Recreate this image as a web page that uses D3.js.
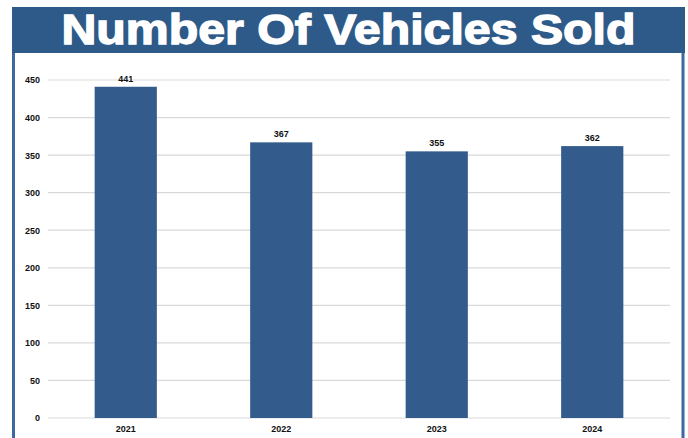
<!DOCTYPE html>
<html>
<head>
<meta charset="utf-8">
<script src="https://cdn.jsdelivr.net/npm/d3@7"></script>
<style>
  body { margin: 0; background: #fff; }
  text { font-family: "Liberation Sans", Arial, sans-serif; }
</style>
</head>
<body>
<div id="chart-div"></div>
<script>
// chart data
var years = ["2021", "2022", "2023", "2024"];
var sold = [441, 367, 355, 362];
var yTicks = [0, 50, 100, 150, 200, 250, 300, 350, 400, 450];
var title = "Number Of Vehicles Sold";

var width = 688
var height = 438
var margin = {top: 80, right: 18, bottom: 20, left: 48};

var svg = d3.select('#chart-div')
            .append('svg')
            .attr("width", width)
            .attr("height", height);

// frame + header band
svg.append("rect")
    .attr("x", 13.5).attr("y", 40)
    .attr("width", 669.5).attr("height", 420)
    .attr("fill", "#fff")
    .attr("stroke", "#3d69a0")
    .attr("stroke-width", 3);

svg.append("rect")
    .attr("x", 12).attr("y", 7)
    .attr("width", 673).attr("height", 46)
    .attr("fill", "#2d5a88");

svg.append("text")
    .attr("x", 348.5)
    .attr("y", 44)
    .attr("text-anchor", "middle")
    .attr("fill", "#fff")
    .attr("stroke", "#fff")
    .attr("stroke-width", 1.4)
    .attr("textLength", 574)
    .attr("lengthAdjust", "spacingAndGlyphs")
    .style("font-size", "43px")
    .style("font-weight", "bold")
    .text(title);

var x = d3.scaleBand()
    .domain(years)
    .range([margin.left, 670])
    .padding(0);

var y = d3.scaleLinear()
    .domain([0, 450])
    .range([418, margin.top]);

// gridlines
svg.append("g")
    .selectAll("line")
    .data(yTicks)
    .enter().append("line")
    .attr("x1", margin.left)
    .attr("x2", 670)
    .attr("y1", function(d) { return y(d); })
    .attr("y2", function(d) { return y(d); })
    .attr("stroke", "#d9d9d9")
    .attr("stroke-width", 1.2);

// y axis labels
var yAxis = d3.axisLeft(y).tickValues(yTicks).tickSize(0).tickPadding(0);
var yg = svg.append("g")
    .attr("transform", "translate(40,0)")
    .call(yAxis);
yg.select(".domain").remove();
yg.selectAll("text")
    .style("font-size", "9px")
    .style("font-weight", "bold")
    .attr("fill", "#111");

// x axis labels
var xAxis = d3.axisBottom(x).tickSize(0).tickPadding(0);
var xg = svg.append("g")
    .attr("transform", "translate(0,426)")
    .call(xAxis);
xg.select(".domain").remove();
xg.selectAll("text")
    .style("font-size", "9px")
    .style("font-weight", "bold")
    .attr("fill", "#111");

var barW = x.bandwidth() * 0.4;

// bars
svg.selectAll(".bar")
    .data(years)
    .enter().append("rect")
    .attr("class", "bar")
    .attr("x", function(d) { return x(d) + x.bandwidth() / 2 - barW / 2; })
    .attr("width", barW)
    .attr("y", function(d, i) { return y(sold[i]); })
    .attr("height", function(d, i) { return y(0) - y(sold[i]); })
    .attr("fill", "#335b8b");

// value labels
svg.selectAll(".val")
    .data(years)
    .enter().append("text")
    .attr("class", "val")
    .attr("x", function(d) { return x(d) + x.bandwidth() / 2; })
    .attr("y", function(d, i) { return y(sold[i]) - 5; })
    .attr("text-anchor", "middle")
    .style("font-size", "9px")
    .style("font-weight", "bold")
    .attr("fill", "#111")
    .text(function(d, i) { return sold[i]; });
</script>
</body>
</html>
